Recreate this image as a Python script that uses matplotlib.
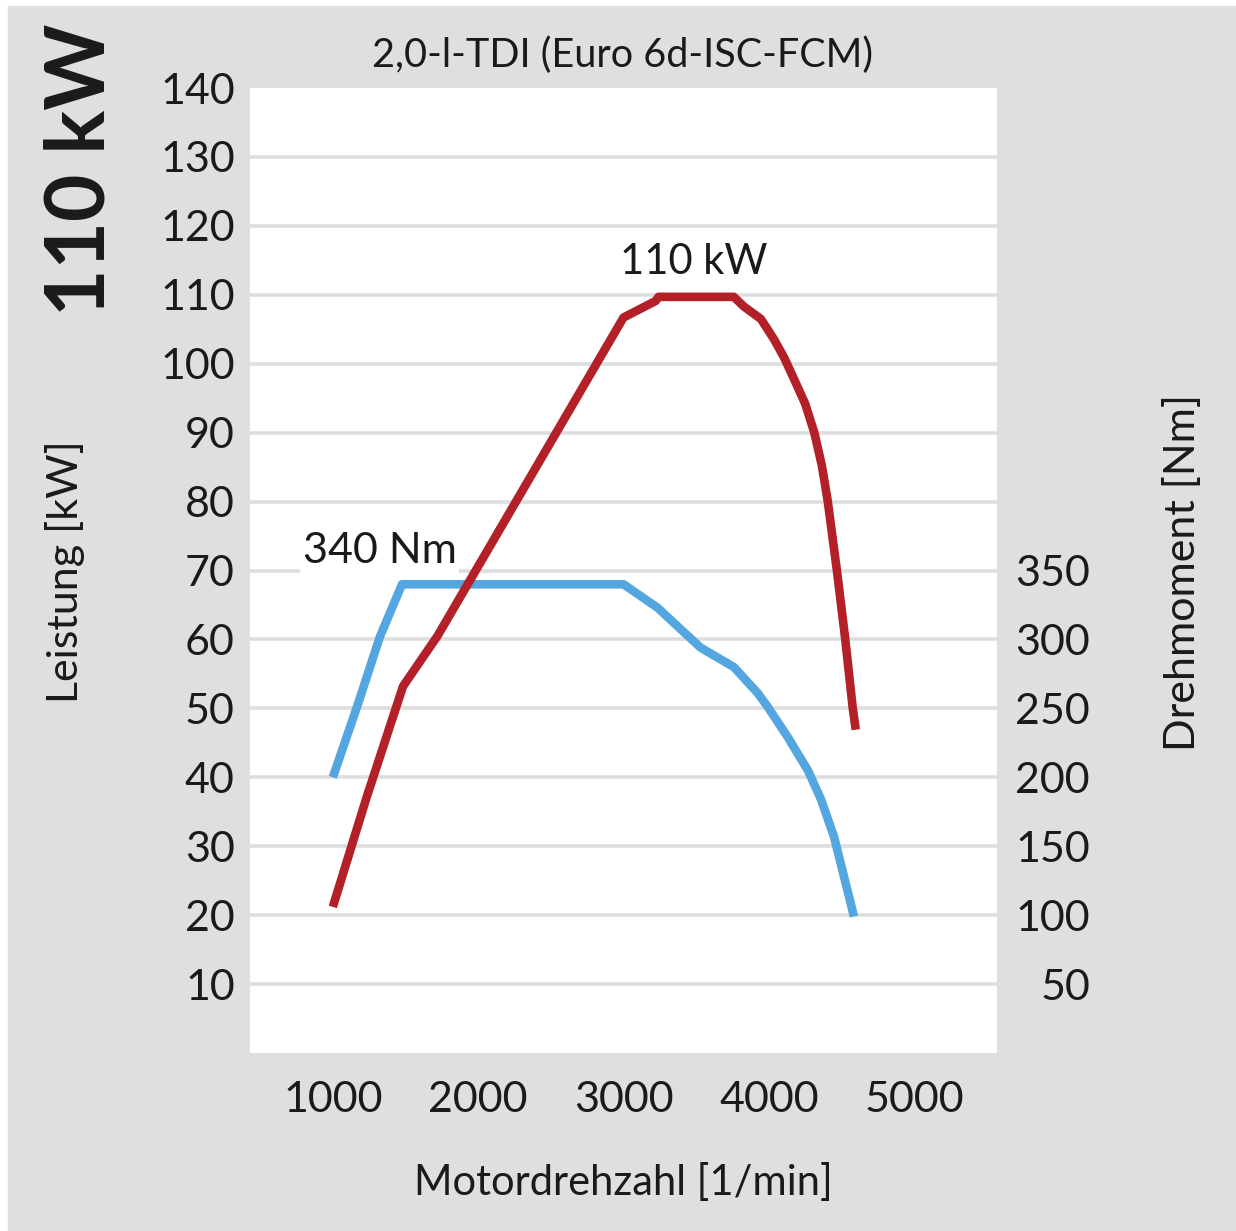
"""
Leistungs- und Drehmomentkurve 2,0-l-TDI (110 kW).
"""
import matplotlib
matplotlib.use("Agg")
import matplotlib.pyplot as plt
from matplotlib.patches import Rectangle

plt.rcParams['font.family'] = ['Lato', 'DejaVu Sans']

# ── Daten ────────────────────────────────────────────────────────────────────
rpm_power = [1000, 1234, 1483, 1720, 3000, 3221, 3241, 3759, 3828, 3945,
             4034, 4105, 4175, 4250, 4313, 4365, 4405, 4469, 4526, 4577, 4598]
power_kw = [21.2, 37.2, 53.2, 60.5, 106.7, 109.1, 109.7, 109.7, 108.3, 106.5,
            103.6, 100.9, 97.7, 94.2, 90.0, 85.2, 80.1, 69.9, 60.0, 50.1, 46.9]

rpm_torque = [1000, 1166, 1324, 1476, 3000, 3234, 3531, 3759, 3924, 3993,
              4131, 4269, 4359, 4448, 4517, 4586]
torque_nm = [200, 251, 302, 340, 340, 323, 294, 280, 261, 251,
             229, 205, 184, 157, 128, 99]

x_ticks = [1000, 2000, 3000, 4000, 5000]
y_ticks_kw = list(range(10, 141, 10))
y_ticks_nm = list(range(50, 351, 50))

RED = '#b32028'
BLUE = '#53a6e0'
GRID = '#dedede'
BG = '#dfdfde'
TXT = '#1a1a1a'
FS = 31

# ── Graf ─────────────────────────────────────────────────────────────────────
fig = plt.figure(figsize=(12.36, 12.31), dpi=100)
fig.patch.set_facecolor('white')
fig.patches.append(Rectangle((8 / 1236, 0), 1, 1 - 6 / 1231,
                             transform=fig.transFigure, color=BG, zorder=-10))

ax = fig.add_axes([250 / 1236, 1 - 1053 / 1231, 747 / 1236, 965 / 1231])
ax.set_xlim(430, 5570)
ax.set_ylim(0, 140)
ax.set_xticks(x_ticks)
ax.set_yticks(y_ticks_kw)
for s in ax.spines.values():
    s.set_visible(False)
ax.tick_params(axis='both', length=0, labelsize=FS, colors=TXT)
ax.tick_params(axis='x', pad=20)
ax.tick_params(axis='y', pad=11)

# Drehmoment auf der rechten Achse (unten liegend, trägt das Gitter)
ax2 = ax.twinx()
ax2.set_ylim(0, 700)
ax2.set_yticks(y_ticks_nm)
for s in ax2.spines.values():
    s.set_visible(False)
ax2.tick_params(axis='y', length=0, labelsize=FS, colors=TXT, pad=67)
for lab in ax2.get_yticklabels():
    lab.set_horizontalalignment('right')
ax2.patch.set_visible(True)
ax2.patch.set_facecolor('white')
ax2.xaxis.grid(True, color=GRID, lw=2.6)
for yv in y_ticks_kw[:-1]:
    ax2.axhline(yv * 5, color=GRID, lw=2.6, zorder=0)
ax2.plot(rpm_torque, torque_nm, color=BLUE, lw=6.2, solid_joinstyle='round',
         solid_capstyle='butt', zorder=3)

ax.set_zorder(ax2.get_zorder() + 1)
ax.patch.set_visible(False)
ax.plot(rpm_power, power_kw, color=RED, lw=6.2, solid_joinstyle='round',
        solid_capstyle='butt', zorder=4)

box = dict(facecolor='white', edgecolor='none', pad=2)
ax.text(1324, 72.8, "340 Nm", fontsize=FS, ha='center', va='center',
        color=TXT, bbox=box, zorder=3)
ax.text(3483, 114.7, "110 kW", fontsize=30, ha='center', va='center',
        color=TXT, bbox=box, zorder=3)

fig.text(0.504, 0.955, "2,0-l-TDI (Euro 6d-ISC-FCM)", fontsize=28.5,
         ha='center', va='center', color=TXT)
fig.text(0.0656, 0.862, "110 kW", fontsize=59, fontweight='bold',
         rotation=90, ha='center', va='center', color=TXT)
fig.text(0.0526, 0.536, "Leistung [kW]", fontsize=31, rotation=90,
         ha='center', va='center', color=TXT)
fig.text(0.957, 0.535, "Drehmoment [Nm]", fontsize=31, rotation=90,
         ha='center', va='center', color=TXT)
fig.text(0.504, 0.039, "Motordrehzahl [1/min]", fontsize=30,
         ha='center', va='center', color=TXT)

fig.savefig("out.png", dpi=100, facecolor=fig.get_facecolor())
